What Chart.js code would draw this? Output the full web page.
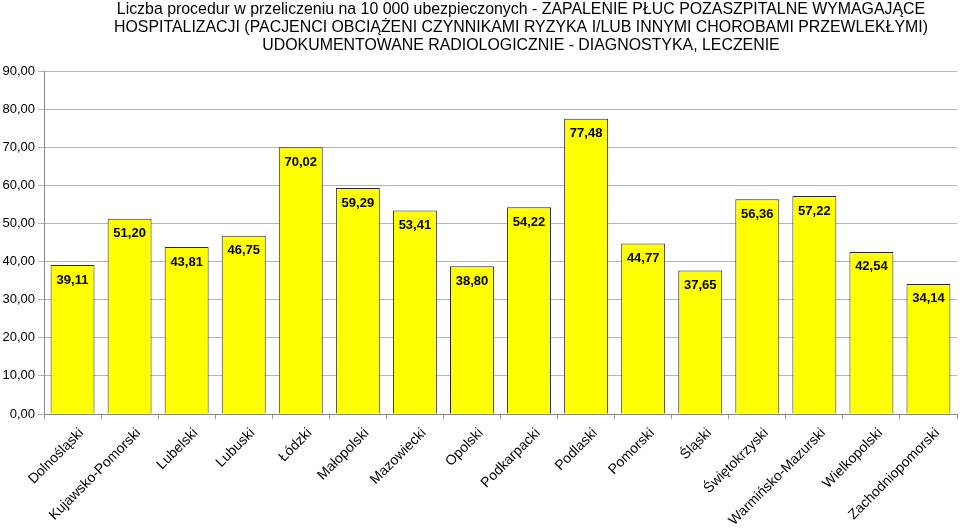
<!DOCTYPE html>
<html><head><meta charset="utf-8">
<script src="https://cdn.jsdelivr.net/npm/chart.js@4/dist/chart.umd.min.js"></script>
<style>html,body{margin:0;padding:0;background:#fff}#wrap{width:960px;height:529px}</style>
</head><body><div id="wrap"><canvas id="c" width="960" height="529"></canvas></div>
<script>
const categories = ["Dolnośląski","Kujawsko-Pomorski","Lubelski","Lubuski","Łódzki","Małopolski","Mazowiecki","Opolski","Podkarpacki","Podlaski","Pomorski","Śląski","Świętokrzyski","Warmińsko-Mazurski","Wielkopolski","Zachodniopomorski"];
const values = [39.11,51.20,43.81,46.75,70.02,59.29,53.41,38.80,54.22,77.48,44.77,37.65,56.36,57.22,42.54,34.14];
const titleLines = ["Liczba procedur w przeliczeniu na 10 000 ubezpieczonych - ZAPALENIE PŁUC POZASZPITALNE WYMAGAJĄCE","HOSPITALIZACJI (PACJENCI OBCIĄŻENI CZYNNIKAMI RYZYKA I/LUB INNYMI CHOROBAMI PRZEWLEKŁYMI)","UDOKUMENTOWANE RADIOLOGICZNIE - DIAGNOSTYKA, LECZENIE"];
const yTicks = {min:0,max:90,step:10};

const FF = '"Liberation Sans", Arial, sans-serif';
const fmt = v => v.toFixed(2).replace('.', ',');

const titlePlugin = {
  id:'ttl',
  afterDraw(chart){
    const ctx = chart.ctx;
    ctx.save();
    ctx.font = '15.9px ' + FF;
    ctx.fillStyle = '#000';
    ctx.textAlign = 'center';
    ctx.textBaseline = 'middle';
    titleLines.forEach((t,i)=> ctx.fillText(t, 521, 10 + i*18));
    ctx.restore();
  }
};

const labelPlugin = {
  id:'vals',
  afterDatasetsDraw(chart){
    const ctx = chart.ctx;
    const meta = chart.getDatasetMeta(0);
    ctx.save();
    ctx.font = 'bold 13px ' + FF;
    ctx.fillStyle = '#000';
    ctx.textAlign = 'center';
    ctx.textBaseline = 'middle';
    meta.data.forEach((bar,i)=>{
      ctx.fillText(fmt(values[i]), bar.x, bar.y + 15);
    });
    ctx.restore();
  }
};

new Chart(document.getElementById('c'), {
  type:'bar',
  data:{labels:categories, datasets:[{data:values, backgroundColor:'#FFFF00', borderColor:'#2a2a2a', borderWidth:1, barPercentage:0.77, categoryPercentage:1}]},
  options:{
    responsive:false, animation:false,
    layout:{padding:{left:0,right:3,top:71,bottom:0}},
    plugins:{legend:{display:false}, tooltip:{enabled:false}, title:{display:false}},
    scales:{
      x:{
        afterFit(s){ s.height = 115; },
        grid:{drawOnChartArea:false, drawTicks:true, tickLength:5, color:'#999'},
        border:{color:'#888'},
        ticks:{color:'#000', maxRotation:45, minRotation:45, autoSkip:false, padding:6, labelOffset:9, font:{family:FF, size:14}}
      },
      y:{
        afterFit(s){ s.width = 44; },
        min:yTicks.min, max:yTicks.max,
        grid:{color:'#b4b4b4', tickLength:6},
        border:{color:'#888'},
        ticks:{stepSize:yTicks.step, color:'#000', padding:3, callback:v=>fmt(v), font:{family:FF, size:13}}
      }
    }
  },
  plugins:[labelPlugin, titlePlugin]
});
</script></body></html>
